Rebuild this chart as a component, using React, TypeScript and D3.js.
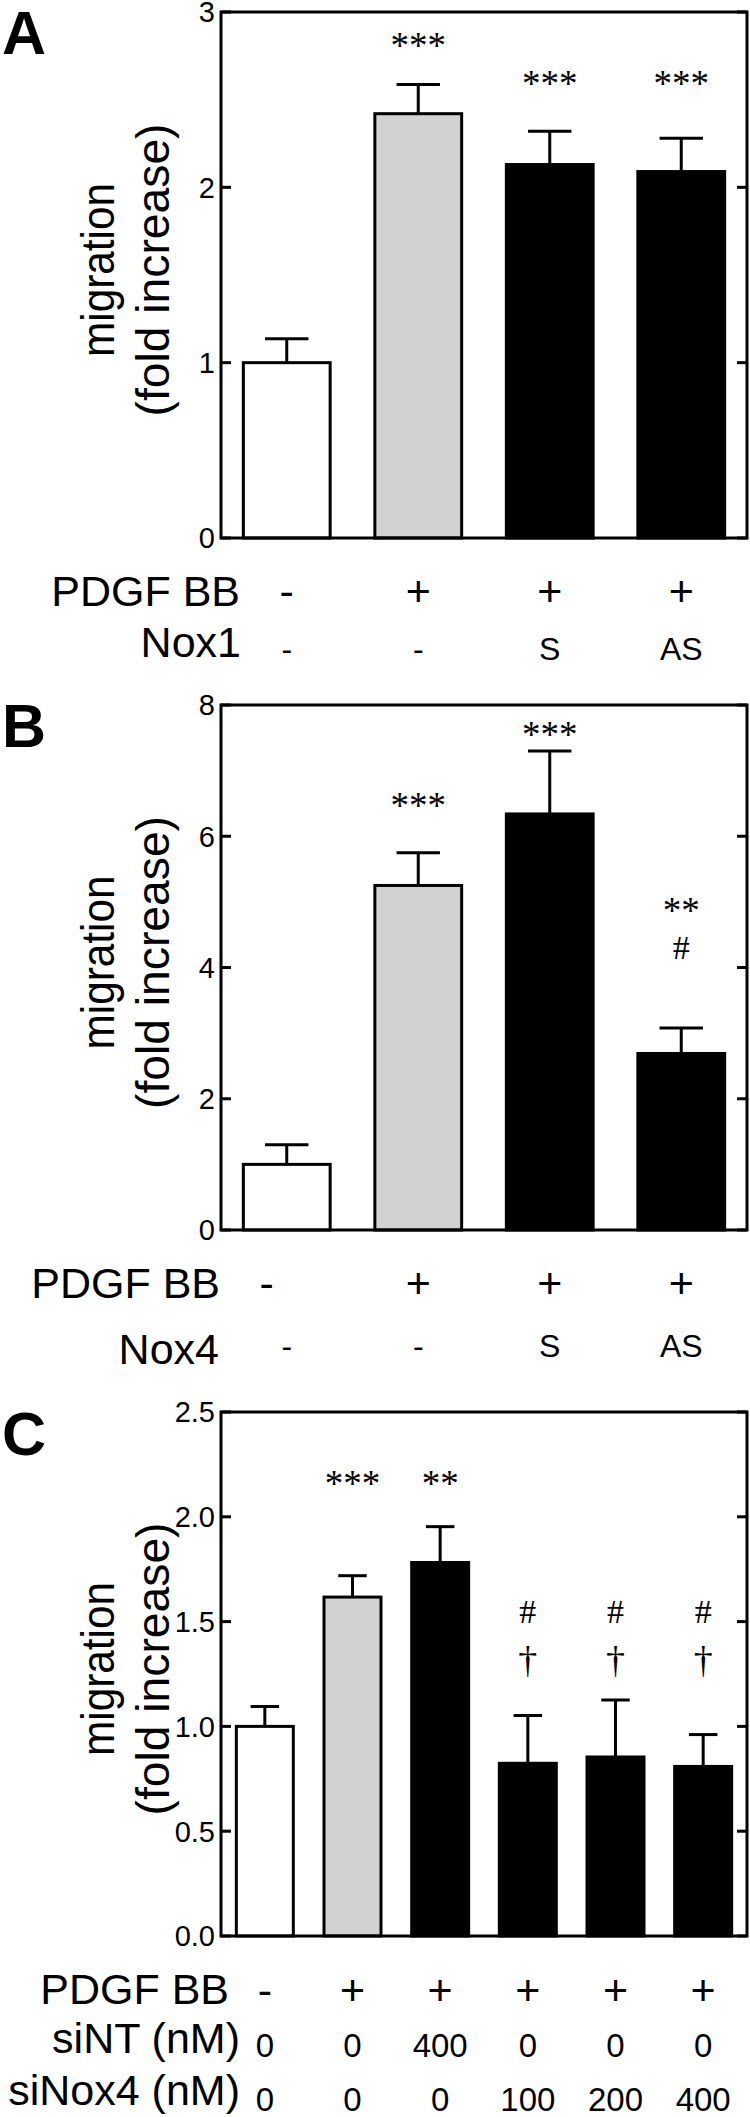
import React from "react";
import * as d3 from "d3";

// ---------- Panel A ----------
const A_VALUES = [1.0, 2.42, 2.13, 2.09];
const A_ERRORS = [0.137, 0.167, 0.19, 0.19];
const A_GROUPS = ["control", "pdgf", "treated", "treated"];
const A_TICKS = [0, 1, 2, 3];
const A_MARKS = ["", "***", "***", "***"];
const A_MARK_LEVELS = [NaN, 2.835, 2.618, 2.618];
const A_ROW_LABELS = ["PDGF BB", "Nox1"];
const A_ROW1 = ["-", "+", "+", "+"];
const A_ROW2 = ["-", "-", "S", "AS"];

// ---------- Panel B ----------
const B_VALUES = [1.0, 5.25, 6.34, 2.69];
const B_ERRORS = [0.3, 0.5, 0.96, 0.39];
const B_GROUPS = ["control", "pdgf", "treated", "treated"];
const B_TICKS = [0, 2, 4, 6, 8];
const B_MARKS = ["", "***", "***", "**"];
const B_MARK_LEVELS = [NaN, 6.55, 7.62, 4.95];
const B_MARKS2 = ["", "", "", "#"];
const B_MARK2_LEVELS = [NaN, NaN, NaN, 4.31];
const B_ROW_LABELS = ["PDGF BB", "Nox4"];
const B_ROW1 = ["-", "+", "+", "+"];
const B_ROW2 = ["-", "-", "S", "AS"];

// ---------- Panel C ----------
const C_VALUES = [1.0, 1.617, 1.782, 0.824, 0.854, 0.809];
const C_ERRORS = [0.095, 0.102, 0.171, 0.228, 0.272, 0.152];
const C_GROUPS = ["control", "pdgf", "treated", "treated", "treated", "treated"];
const C_TICKS = [0, 0.5, 1.0, 1.5, 2.0, 2.5];
const C_MARKS = ["", "***", "**", "#", "#", "#"];
const C_MARK_LEVELS = [NaN, 2.18, 2.18, 1.55, 1.55, 1.55];
const C_MARKS2 = ["", "", "", "\u2020", "\u2020", "\u2020"];
const C_MARK2_LEVELS = [NaN, NaN, NaN, 1.31, 1.31, 1.31];
const C_ROW_LABELS = ["PDGF BB", "siNT (nM)", "siNox4 (nM)"];
const C_ROW1 = ["-", "+", "+", "+", "+", "+"];
const C_ROW2 = ["0", "0", "400", "0", "0", "0"];
const C_ROW3 = ["0", "0", "0", "100", "200", "400"];

const Y_LABEL_1 = "migration";
const Y_LABEL_2 = "(fold increase)";

const SANS = "'Liberation Sans', Arial, Helvetica, sans-serif";
const SERIF = "'Liberation Serif', 'Times New Roman', serif";

const FILL: Record<string, string> = {
  control: "#ffffff",
  pdgf: "#d2d2d2",
  treated: "#000000",
};

type MarkSet = { texts: string[]; levels: number[] };
type Row = {
  label: string;
  vals: string[];
  labelBaseline: number;
  labelRight: number;
  valBaseline: number;
  valSize: number;
  dx?: number[];
};

type PanelProps = {
  letter: string;
  letterBaseline: number;
  values: number[];
  errors: number[];
  groups: string[];
  ticks: number[];
  tickFmt: (v: number) => string;
  top: number;
  bottom: number;
  padInner: number;
  padOuter: number;
  marks: MarkSet[];
  rows: Row[];
};

const L = 221;
const R = 747;

function markOffset(s: string, fs: number) {
  if (s.includes("*")) return 0.47 * fs;
  if (s.includes("#")) return 0.34 * fs;
  return 0.3 * fs;
}
function markSize(s: string) {
  if (s.includes("*")) return 37;
  if (s.includes("#")) return 34;
  return 38;
}

function Panel(p: PanelProps) {
  const n = p.values.length;
  const x = d3
    .scaleBand<number>()
    .domain(d3.range(n))
    .range([L, R])
    .paddingInner(p.padInner)
    .paddingOuter(p.padOuter);
  const y = d3
    .scaleLinear()
    .domain([0, p.ticks[p.ticks.length - 1]])
    .range([p.bottom, p.top]);
  const bw = x.bandwidth();
  const capW = bw / 2;
  const cx = (i: number) => (x(i) as number) + bw / 2;
  const midY = (p.top + p.bottom) / 2 - 5;

  return (
    <g>
      <text x={2} y={p.letterBaseline} fontFamily={SANS} fontWeight="bold" fontSize={61}>
        {p.letter}
      </text>

      {/* y label */}
      <g transform={`translate(0,${midY}) rotate(-90)`} fontFamily={SANS} fontSize={46}>
        <text x={0} y={114} textAnchor="middle" textLength={174} lengthAdjust="spacingAndGlyphs">
          {Y_LABEL_1}
        </text>
        <text x={0} y={169} textAnchor="middle" textLength={293} lengthAdjust="spacingAndGlyphs">
          {Y_LABEL_2}
        </text>
      </g>

      {/* bars */}
      {p.values.map((v, i) => (
        <rect
          key={"b" + i}
          x={x(i)}
          y={y(v)}
          width={bw}
          height={y(0) - y(v)}
          fill={FILL[p.groups[i]]}
          stroke="#000"
          strokeWidth={3}
        />
      ))}

      {/* error bars */}
      {p.values.map((v, i) => (
        <g key={"e" + i} stroke="#000" strokeWidth={3}>
          <line x1={cx(i)} x2={cx(i)} y1={y(v)} y2={y(v + p.errors[i])} />
          <line
            x1={cx(i) - capW / 2}
            x2={cx(i) + capW / 2}
            y1={y(v + p.errors[i])}
            y2={y(v + p.errors[i])}
          />
        </g>
      ))}

      {/* frame */}
      <rect
        x={L}
        y={p.top}
        width={R - L}
        height={p.bottom - p.top}
        fill="none"
        stroke="#000"
        strokeWidth={3}
      />

      {/* ticks */}
      {p.ticks.map((t) => (
        <g key={"t" + t}>
          <line x1={L} x2={L + 10} y1={y(t)} y2={y(t)} stroke="#000" strokeWidth={3} />
          <line x1={R - 10} x2={R} y1={y(t)} y2={y(t)} stroke="#000" strokeWidth={3} />
          <text
            x={L - 6}
            y={y(t)}
            dy="0.36em"
            textAnchor="end"
            fontFamily={SANS}
            fontSize={29}
          >
            {p.tickFmt(t)}
          </text>
        </g>
      ))}

      {/* significance marks */}
      {p.marks.map((m, mi) =>
        m.texts.map((s, i) => {
          if (!s) return null;
          const fs = markSize(s);
          return (
            <text
              key={"m" + mi + "-" + i}
              x={cx(i)}
              y={y(m.levels[i]) + markOffset(s, fs)}
              textAnchor="middle"
              fontFamily={SERIF}
              fontSize={fs}
            >
              {s}
            </text>
          );
        })
      )}

      {/* condition rows */}
      {p.rows.map((r, ri) => (
        <g key={"r" + ri} fontFamily={SANS}>
          <text x={r.labelRight} y={r.labelBaseline} textAnchor="end" fontSize={43}>
            {r.label}
          </text>
          {r.vals.map((s, i) => (
            <text
              key={i}
              x={cx(i) + (r.dx ? r.dx[i] : 0)}
              y={r.valBaseline}
              textAnchor="middle"
              fontSize={r.valSize}
            >
              {s}
            </text>
          ))}
        </g>
      ))}
    </g>
  );
}

export default function App() {
  const fmtInt = (v: number) => d3.format("d")(v);
  const fmt1 = (v: number) => d3.format(".1f")(v);
  return (
    <svg
      width={750}
      height={2117}
      viewBox="0 0 750 2117"
      style={{ position: "absolute", left: 0, top: 0, background: "#fff" }}
    >
      <rect x={0} y={0} width={750} height={2117} fill="#fff" />
      <Panel
        letter="A"
        letterBaseline={54}
        values={A_VALUES}
        errors={A_ERRORS}
        groups={A_GROUPS}
        ticks={A_TICKS}
        tickFmt={fmtInt}
        top={12}
        bottom={538}
        padInner={0.34}
        padOuter={0.17}
        marks={[{ texts: A_MARKS, levels: A_MARK_LEVELS }]}
        rows={[
          { label: A_ROW_LABELS[0], vals: A_ROW1, labelBaseline: 606, labelRight: 240, valBaseline: 606, valSize: 43 },
          { label: A_ROW_LABELS[1], vals: A_ROW2, labelBaseline: 657, labelRight: 241, valBaseline: 660, valSize: 32 },
        ]}
      />
      <Panel
        letter="B"
        letterBaseline={747}
        values={B_VALUES}
        errors={B_ERRORS}
        groups={B_GROUPS}
        ticks={B_TICKS}
        tickFmt={fmtInt}
        top={705}
        bottom={1230}
        padInner={0.34}
        padOuter={0.17}
        marks={[
          { texts: B_MARKS, levels: B_MARK_LEVELS },
          { texts: B_MARKS2, levels: B_MARK2_LEVELS },
        ]}
        rows={[
          { label: B_ROW_LABELS[0], vals: B_ROW1, labelBaseline: 1298, labelRight: 220, valBaseline: 1298, valSize: 43, dx: [-20, 0, 0, 0] },
          { label: B_ROW_LABELS[1], vals: B_ROW2, labelBaseline: 1364, labelRight: 219, valBaseline: 1357, valSize: 32 },
        ]}
      />
      <Panel
        letter="C"
        letterBaseline={1455}
        values={C_VALUES}
        errors={C_ERRORS}
        groups={C_GROUPS}
        ticks={C_TICKS}
        tickFmt={fmt1}
        top={1412}
        bottom={1936}
        padInner={0.35}
        padOuter={0.175}
        marks={[
          { texts: C_MARKS, levels: C_MARK_LEVELS },
          { texts: C_MARKS2, levels: C_MARK2_LEVELS },
        ]}
        rows={[
          { label: C_ROW_LABELS[0], vals: C_ROW1, labelBaseline: 2004, labelRight: 229, valBaseline: 2005, valSize: 43 },
          { label: C_ROW_LABELS[1], vals: C_ROW2, labelBaseline: 2053, labelRight: 240, valBaseline: 2057, valSize: 33 },
          { label: C_ROW_LABELS[2], vals: C_ROW3, labelBaseline: 2105, labelRight: 240, valBaseline: 2111, valSize: 33 },
        ]}
      />
    </svg>
  );
}
